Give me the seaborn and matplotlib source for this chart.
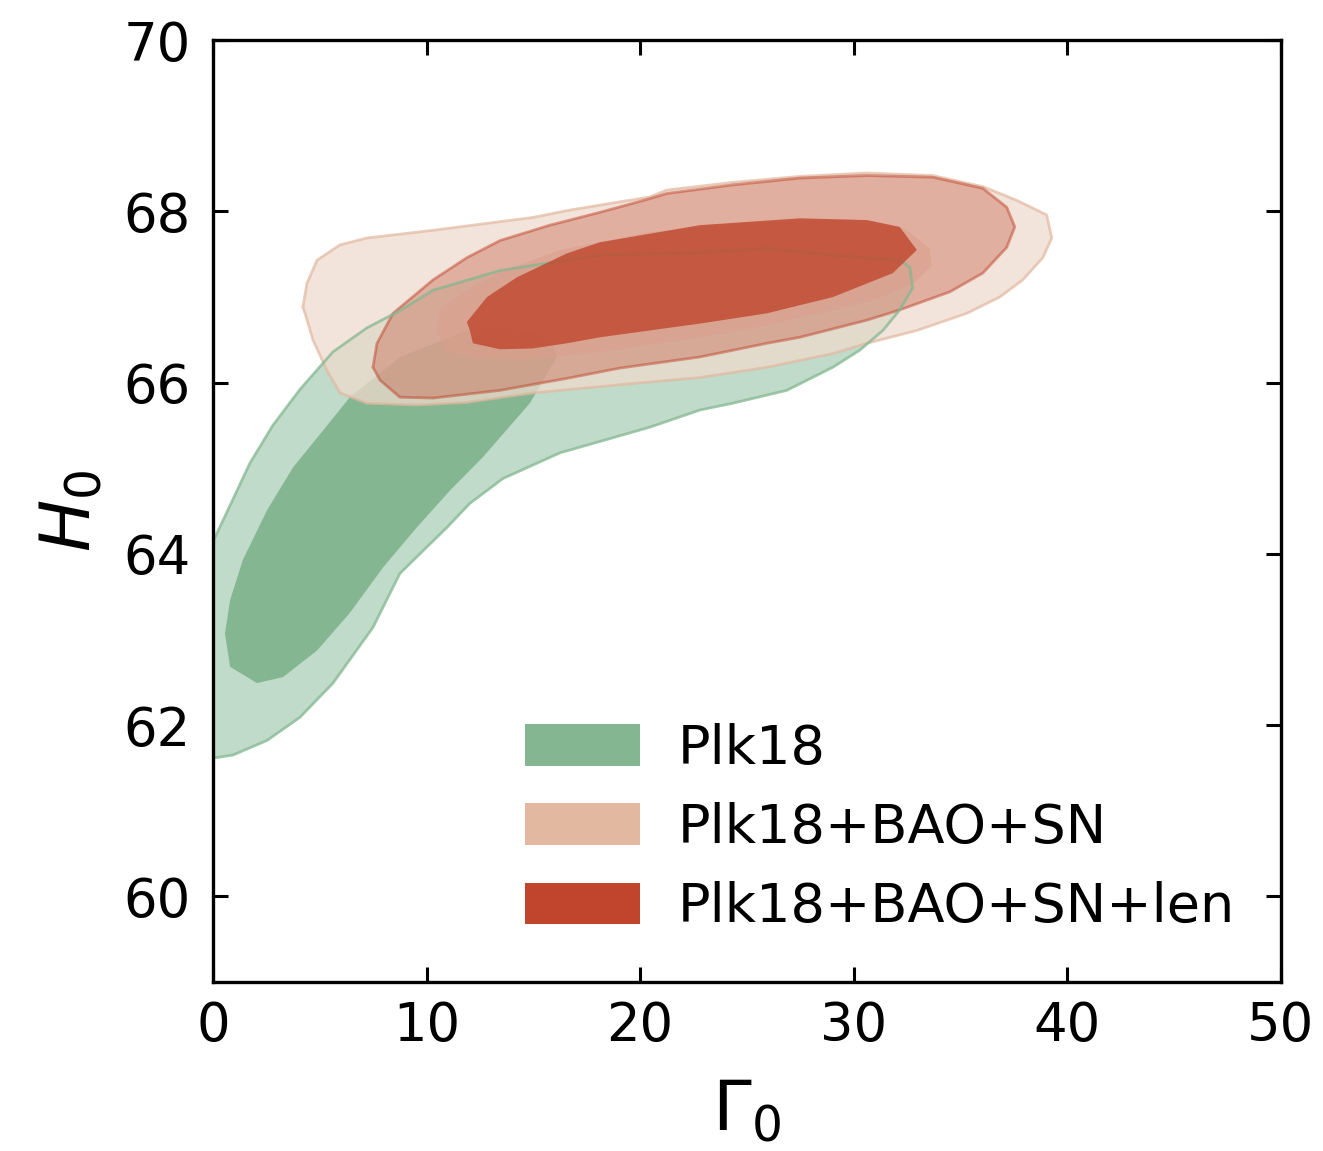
import numpy as np
import pandas as pd
import matplotlib
matplotlib.use("Agg")
import matplotlib.pyplot as plt
import seaborn as sns
from matplotlib.patches import Patch

# ---------------- data (contour outlines) ----------------
labels = ["Plk18", "Plk18+BAO+SN", "Plk18+BAO+SN+len"]

# Plk18, 95% region
plk_95_gamma = [0, 0.19, 0.94, 2.53, 4.07, 5.62, 7.49, 8.75, 10.96, 12.03, 13.58, 16.25,
                20.46, 22.80, 24.34, 26.87, 29.03, 30.29, 31.37, 32.16, 32.77, 32.63,
                32.16, 29.03, 25.94, 22.80, 18.12, 13.44, 10.30, 8.75, 7.21, 5.62, 4.07,
                2.80, 1.73, 0.09, 0]
plk_95_h0 = [61.62, 61.62, 61.65, 61.82, 62.09, 62.49, 63.14, 63.77, 64.31, 64.59, 64.88,
             65.18, 65.48, 65.68, 65.76, 65.91, 66.18, 66.38, 66.61, 66.85, 67.11, 67.35,
             67.43, 67.49, 67.57, 67.52, 67.49, 67.31, 67.08, 66.84, 66.64, 66.36, 65.92,
             65.50, 65.06, 64.19, 64.16]
# Plk18, 68% region
plk_68_gamma = [0.56, 0.80, 2.06, 3.28, 4.87, 6.41, 7.96, 9.55, 11.10, 12.64, 14.84, 16.10,
                15.78, 13.44, 11.89, 8.75, 6.41, 5.15, 3.75, 2.53, 1.40, 0.80]
plk_68_h0 = [63.07, 62.68, 62.49, 62.56, 62.87, 63.31, 63.84, 64.31, 64.74, 65.13, 65.76,
             66.30, 66.53, 66.65, 66.61, 66.30, 65.83, 65.44, 65.01, 64.51, 63.93, 63.46]

# Plk18+BAO+SN, 95% region
pbs_95_gamma = [4.21, 4.40, 4.87, 5.95, 7.21, 10.30, 14.98, 16.57, 20.46, 21.25, 24.34,
                27.48, 30.62, 33.71, 36.05, 37.64, 39.04, 39.28, 38.86, 37.92, 36.84, 35.30,
                32.96, 30.62, 29.03, 25.94, 22.80, 19.66, 14.98, 11.89, 9.55, 7.21, 5.95,
                5.34, 4.68, 4.31]
pbs_95_h0 = [66.88, 67.16, 67.43, 67.61, 67.69, 67.78, 67.93, 68.01, 68.17, 68.25, 68.34,
             68.41, 68.45, 68.42, 68.29, 68.13, 67.96, 67.69, 67.46, 67.20, 67.00, 66.81,
             66.61, 66.46, 66.34, 66.18, 66.06, 65.99, 65.88, 65.77, 65.74, 65.76, 65.88,
             66.14, 66.50, 66.81]
# Plk18+BAO+SN, 68% region
pbs_68_gamma = [10.49, 10.63, 11.56, 13.44, 16.25, 20.46, 25.14, 29.82, 32.40, 33.57, 33.66,
                32.86, 31.23, 29.03, 25.94, 22.80, 18.12, 14.37, 12.03, 10.86]
pbs_68_h0 = [66.61, 66.85, 67.04, 67.29, 67.55, 67.76, 67.87, 67.90, 67.80, 67.57, 67.37,
             67.17, 66.99, 66.85, 66.67, 66.53, 66.36, 66.26, 66.29, 66.38]

# Plk18+BAO+SN+len, 95% region
pbsl_95_gamma = [7.49, 7.68, 8.43, 10.30, 11.89, 13.44, 15.78, 18.12, 20.46, 21.25, 24.34,
                 27.48, 30.62, 33.71, 36.05, 37.17, 37.55, 37.17, 36.05, 34.50, 32.16, 30.62,
                 27.48, 25.94, 22.80, 19.05, 16.57, 13.44, 10.30, 8.75, 7.82]
pbsl_95_h0 = [66.18, 66.46, 66.81, 67.20, 67.46, 67.66, 67.84, 67.99, 68.15, 68.21, 68.31,
              68.39, 68.42, 68.40, 68.27, 68.05, 67.82, 67.58, 67.28, 67.06, 66.85, 66.73,
              66.53, 66.46, 66.30, 66.17, 66.05, 65.91, 65.82, 65.83, 66.03]
# Plk18+BAO+SN+len, 68% region
pbsl_68_gamma = [11.89, 12.03, 12.17, 13.44, 14.98, 16.57, 18.12, 20.46, 22.80, 25.94, 29.03,
                 31.84, 32.96, 32.16, 30.62, 27.48, 22.80, 18.12, 16.57, 14.23, 12.83]
pbsl_68_h0 = [66.71, 66.61, 66.46, 66.39, 66.40, 66.46, 66.53, 66.61, 66.69, 66.81, 67.00,
              67.28, 67.55, 67.82, 67.90, 67.92, 67.84, 67.64, 67.51, 67.23, 67.00]

x_ticks = [0, 10, 20, 30, 40, 50]
y_ticks = [60, 62, 64, 66, 68, 70]

# ---------------- style ----------------
sns.set_theme(style="ticks")
plt.rcParams["font.family"] = ["DejaVu Sans"]
plt.rcParams["mathtext.fontset"] = "dejavusans"
plt.rcParams["text.color"] = "black"
plt.rcParams["axes.labelcolor"] = "black"
plt.rcParams["xtick.color"] = "black"
plt.rcParams["ytick.color"] = "black"

green = (132/255, 183/255, 145/255)
green_light = (192/255, 219/255, 201/255)
peach = (226/255, 184/255, 160/255)
peach_fill = (238/255, 219/255, 206/255)
peach_inner = (232/255, 204/255, 188/255)
red = (192/255, 69/255, 44/255)

fig, ax = plt.subplots(figsize=(6.615, 5.755), dpi=200)
fig.subplots_adjust(left=0.161, right=0.968, top=0.965, bottom=0.147)


def closed(xs, ys):
    return pd.DataFrame({"x": list(xs) + [xs[0]], "y": list(ys) + [ys[0]]})


# Plk18
ax.fill(plk_95_gamma, plk_95_h0, color=green_light, lw=0, zorder=1)
ax.fill(plk_68_gamma, plk_68_h0, color=green, lw=0, zorder=2)

# Plk18+BAO+SN
ax.fill(pbs_95_gamma, pbs_95_h0, color=peach_fill, alpha=0.75, lw=0, zorder=3)
d = closed(pbs_95_gamma, pbs_95_h0)
sns.lineplot(data=d, x="x", y="y", sort=False, estimator=None, color=peach, alpha=0.7,
             lw=1.0, ax=ax, zorder=3)
ax.fill(pbs_68_gamma, pbs_68_h0, color=peach_inner, alpha=0.6, lw=0, zorder=4)

# Plk18+BAO+SN+len (outer)
ax.fill(pbsl_95_gamma, pbsl_95_h0, color=red, alpha=0.33, lw=0, zorder=5)
d = closed(pbsl_95_gamma, pbsl_95_h0)
sns.lineplot(data=d, x="x", y="y", sort=False, estimator=None, color=red, alpha=0.5,
             lw=1.0, ax=ax, zorder=5)

# Plk18 outline on top
d = closed(plk_95_gamma, plk_95_h0)
sns.lineplot(data=d, x="x", y="y", sort=False, estimator=None, color=green, alpha=0.75,
             lw=1.0, ax=ax, zorder=6)

# Plk18+BAO+SN+len (inner)
ax.fill(pbsl_68_gamma, pbsl_68_h0, color=red, alpha=0.8, lw=0, zorder=7)

ax.set_xlim(0, 50)
ax.set_ylim(59, 70)
ax.set_xticks(x_ticks)
ax.set_yticks(y_ticks)
ax.set_xlabel(r"$\Gamma_0$", fontsize=25, labelpad=9, color="black")
ax.set_ylabel(r"$H_0$", fontsize=25, labelpad=7, color="black")
ax.tick_params(direction="in", length=5.4, width=1.1, top=True, right=True,
               labelsize=19, colors="black")
ax.tick_params(axis="x", pad=6.5)
ax.tick_params(axis="y", pad=8)
for s in ax.spines.values():
    s.set_linewidth(1.2)
    s.set_color("black")
    s.set_zorder(10)

handles = [Patch(facecolor=green, edgecolor="none"),
           Patch(facecolor=peach, edgecolor="none"),
           Patch(facecolor=red, edgecolor="none")]
leg = ax.legend(handles, labels, loc="upper left", bbox_to_anchor=(0.292, 0.275),
                frameon=False, fontsize=19.5, handlelength=2.13, handleheight=0.8,
                handletextpad=0.7, labelspacing=0.5, borderpad=0, borderaxespad=0)
for t in leg.get_texts():
    t.set_color("black")

fig.savefig("out.png", dpi=200)
